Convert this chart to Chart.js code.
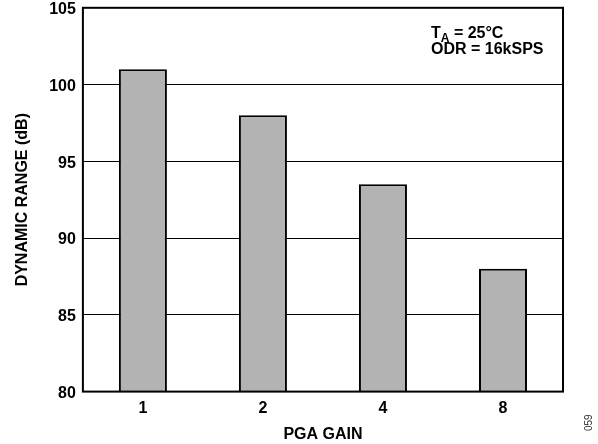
<!DOCTYPE html>
<html><head><meta charset="utf-8">
<script src="https://cdn.jsdelivr.net/npm/chart.js@4/dist/chart.umd.min.js"></script>
<style>html,body{margin:0;padding:0;background:#fff}</style>
</head><body>
<canvas id="c" width="598" height="444"></canvas>
<script>
const categories = ["1", "2", "4", "8"];
const dynamicRange = [101, 98, 93.5, 88];
const yTicks = [80, 85, 90, 95, 100, 105];

const FONT = "'Liberation Sans', Arial, sans-serif";

const frame = {
  id: 'frame',
  afterDraw(chart) {
    const {ctx, chartArea: a} = chart;
    ctx.save();
    ctx.strokeStyle = '#000';
    ctx.lineWidth = 2;
    ctx.strokeRect(a.left, a.top, a.right - a.left, a.bottom - a.top);
    // annotation
    ctx.fillStyle = '#000';
    ctx.textBaseline = 'alphabetic';
    ctx.textAlign = 'left';
    ctx.font = "bold 16px " + FONT;
    ctx.fillText('T', 431, 38);
    const tw = ctx.measureText('T').width;
    ctx.font = "bold 12px " + FONT;
    ctx.fillText('A', 431 + tw, 42);
    const aw = ctx.measureText('A').width;
    ctx.font = "bold 16px " + FONT;
    ctx.fillText(' = 25°C', 431 + tw + aw, 38);
    ctx.fillText('ODR = 16kSPS', 431, 54);
    // figure number
    ctx.font = "10px " + FONT;
    ctx.translate(592, 431);
    ctx.rotate(-Math.PI / 2);
    ctx.fillStyle = '#333';
    ctx.fillText('059', 0, 0);
    ctx.restore();
  }
};

new Chart(document.getElementById('c'), {
  type: 'bar',
  data: {
    labels: categories,
    datasets: [{
      data: dynamicRange,
      backgroundColor: '#b3b3b3',
      borderColor: '#000',
      borderWidth: 2,
      borderSkipped: 'bottom',
      categoryPercentage: 1,
      barPercentage: 0.4
    }]
  },
  options: {
    responsive: false,
    animation: false,
    layout: { padding: { left: 0, right: 35, top: 0, bottom: 0 } },
    plugins: { legend: { display: false }, tooltip: { enabled: false } },
    scales: {
      x: {
        grid: { display: false, drawTicks: false },
        border: { display: false },
        ticks: { color: '#000', font: { family: FONT, size: 16, weight: 'bold', lineHeight: 1.2 }, padding: 7 },
        title: { display: true, text: 'PGA GAIN', color: '#000', font: { family: FONT, size: 16, weight: 'bold', lineHeight: 1.2 }, padding: { top: 0, bottom: 0 } }
      },
      y: {
        min: 80, max: 105,
        afterBuildTicks(axis) { axis.ticks = yTicks.map(v => ({ value: v })); },
        grid: { color: '#000', lineWidth: 1, drawTicks: false },
        border: { display: false },
        ticks: { color: '#000', font: { family: FONT, size: 16, weight: 'bold', lineHeight: 0.1 }, padding: 7, labelOffset: 2 },
        title: { display: true, text: 'DYNAMIC RANGE (dB)', color: '#000', font: { family: FONT, size: 16, weight: 'bold', lineHeight: 1.2 }, padding: { top: 13, bottom: 10 } }
      }
    }
  },
  plugins: [frame]
});
</script>
</body></html>
